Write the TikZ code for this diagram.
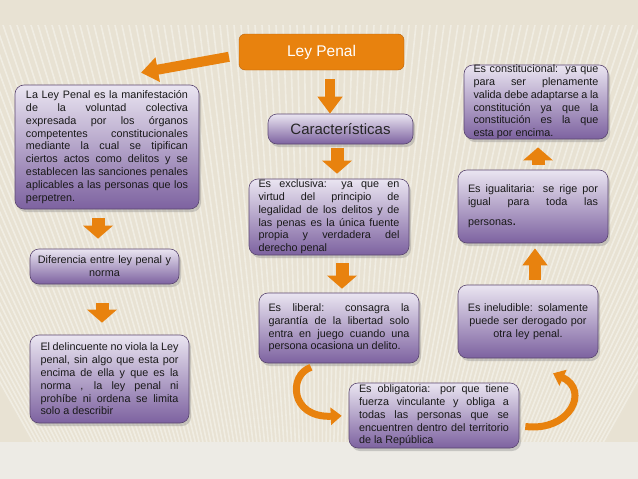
\documentclass[tikz,border=0pt]{standalone}
\usepackage{fontspec}
\setmainfont{Liberation Sans}
\usetikzlibrary{arrows.meta,shadows}
\hyphenpenalty=10000
\exhyphenpenalty=10000
\definecolor{fondo}{HTML}{E8E2D3}
\definecolor{fondobajo}{HTML}{EDEBE5}
\definecolor{naranja}{HTML}{E8820E}
\definecolor{naranjaosc}{HTML}{B8600A}
\definecolor{lilaclaro}{HTML}{EAE5F1}
\definecolor{lilaosc}{HTML}{7D62A0}
\definecolor{lilaborde}{HTML}{5A4670}
\tikzset{
  caja/.style={draw=lilaborde, line width=0.6pt, rounded corners=9pt,
    top color=lilaclaro, bottom color=lilaosc,
    drop shadow={opacity=0.35, shadow xshift=2pt, shadow yshift=-3pt},
    font=\fontsize{10.8}{12.8}\selectfont, text=black!90,
    align=justify, inner xsep=0pt, inner ysep=0pt},
  flecha/.style={draw=naranja, line width=10pt,
    -{Triangle[width=24pt,length=17pt]}},
  flechacorta/.style={draw=naranja, line width=13pt,
    -{Triangle[width=29pt,length=13pt]}},
  curva/.style={draw=naranja, line width=7pt,
    -{Triangle[width=17pt,length=11pt]}},
}

\begin{document}
\begin{tikzpicture}[x=1pt,y=-1pt]
\useasboundingbox (0,0) rectangle (638,479);
% fondo
\fill[fondo] (0,0) rectangle (638,479);
\begin{scope}
\clip (0,25) rectangle (638,442);
\foreach \x in {-200,-193,...,840}
  \draw[white, opacity=0.38, line width=1.6pt] (\x,25) -- ({319+(\x-319)*0.55},442);
\end{scope}
\fill[fondobajo] (0,442) rectangle (638,479);

% titulo
\node[draw=naranjaosc, fill=naranja, rounded corners=6pt, minimum width=165pt,
  minimum height=36pt, text=white, font=\fontsize{15.5}{18}\selectfont]
  (ley) at (321.5,52) {Ley Penal};
\node[caja, minimum width=145pt, minimum height=30pt, align=center,
  font=\fontsize{15}{18}\selectfont, text=black!85] (car) at (340.5,129) {Características};

% columna izquierda
\node[caja, minimum width=184pt, minimum height=124pt, text width=162pt]
  (def) at (107,147)
  {La Ley Penal es la manifestación\linebreak
   de la voluntad colectiva\linebreak
   expresada por los órganos\linebreak
   competentes constitucionales\linebreak
   mediante la cual se tipifican\linebreak
   ciertos actos como delitos y se\linebreak
   establecen las sanciones penales\linebreak
   aplicables a las personas que los\linebreak
   perpetren.};
\node[caja, minimum width=149pt, minimum height=35pt, text width=140pt, align=center]
  (dif) at (104.5,266.5) {Diferencia entre ley penal y\\ norma};
\node[caja, minimum width=159pt, minimum height=88pt, text width=138pt]
  (del) at (109.5,379)
  {El delincuente no viola la Ley\linebreak
   penal, sin algo que esta por\linebreak
   encima de ella y que es la\linebreak
   norma , la ley penal ni\linebreak
   prohíbe ni ordena se limita\linebreak
   solo a describir};

% columna central
\node[caja, minimum width=160pt, minimum height=76pt, text width=141pt]
  (excl) at (329,217)
  {Es exclusiva: ya que en\linebreak
   virtud del principio de\linebreak
   legalidad de los delitos y de\linebreak
   las penas es la única fuente\linebreak
   propia y verdadera del\linebreak
   derecho penal};
\node[caja, minimum width=160pt, minimum height=70pt, text width=141pt]
  (lib) at (339,328)
  {Es liberal: consagra la\linebreak
   garantía de la libertad solo\linebreak
   entra en juego cuando una\linebreak
   persona ocasiona un delito.};
\node[caja, minimum width=170pt, minimum height=65pt, text width=150pt]
  (obl) at (434,415.5)
  {Es obligatoria: por que tiene\linebreak
   fuerza vinculante y obliga a\linebreak
   todas las personas que se\linebreak
   encuentren dentro del territorio\linebreak
   de la República};

% columna derecha
\node[caja, minimum width=140pt, minimum height=73pt, text width=124pt, align=center]
  (inel) at (528,321.5)
  {Es ineludible: solamente\\ puede ser derogado por\\ otra ley penal.};
\node[caja, minimum width=150pt, minimum height=73pt, text width=130pt]
  (igual) at (533,206.5)
  {Es igualitaria: se rige por\linebreak
   igual para toda las\linebreak
   \rule{0pt}{17pt}personas{\Large.}};
\node[caja, minimum width=144pt, minimum height=74pt, text width=125pt]
  (const) at (536,102)
  {Es constitucional:\ \ ya que\linebreak
   para ser plenamente\linebreak
   valida debe adaptarse a la\linebreak
   constitución ya que la\linebreak
   constitución es la que\linebreak
   esta por encima.};

% flechas
\draw[flecha, shorten <=10pt] ([yshift=-3pt]ley.west) -- ([xshift=34pt,yshift=12pt]def.north);
\draw[flecha, shorten <=9pt] ([xshift=8.5pt]ley.south) -- ([xshift=8.5pt]ley.south |- car.north);
\draw[flechacorta, shorten <=4pt, shorten >=5pt] ([xshift=-3.5pt]car.south) -- ([xshift=-3.5pt]car.south |- excl.north);
\draw[flechacorta, shorten <=8pt, shorten >=4pt] ([xshift=13pt]excl.south) -- ([xshift=13pt]excl.south |- lib.north);
\draw[flechacorta, shorten <=9pt, shorten >=10pt] ([xshift=-9pt]def.south) -- ([xshift=-9pt]def.south |- dif.north);
\draw[flechacorta, shorten <=19pt, shorten >=12pt] ([xshift=-2.5pt]dif.south) -- ([xshift=-2.5pt]dif.south |- del.north);
\draw[flecha, line width=12pt, shorten <=5pt, shorten >=5pt] ([xshift=7pt]inel.north) -- ([xshift=7pt]inel.north |- igual.south);
\draw[flechacorta, shorten <=5pt, shorten >=8pt] ([xshift=5pt]igual.north) -- ([xshift=5pt]igual.north |- const.south);
\draw[curva, shorten >=7pt] ([xshift=-28pt,yshift=-4pt]lib.south) .. controls (288,375) and (290,418) .. (obl.west);
\draw[curva] ([xshift=6pt,yshift=-11pt]obl.east) .. controls (570,432) and (590,390) .. ([xshift=25pt,yshift=-15pt]inel.south);
\end{tikzpicture}
\end{document}
